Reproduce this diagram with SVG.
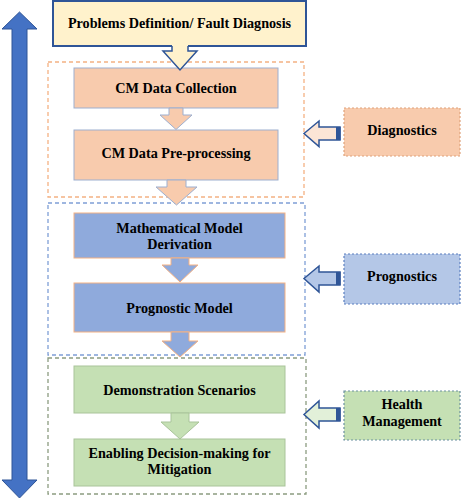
<svg xmlns="http://www.w3.org/2000/svg" width="461" height="500" viewBox="0 0 461 500">
<style>
text{font-family:"Liberation Serif","Times New Roman",serif;font-weight:bold;font-size:14.2px;fill:#000;text-anchor:middle}
.cont{fill:none;stroke-width:1.3;stroke-dasharray:4 3}
.side{stroke-width:1.2;stroke-dasharray:2 2}
.lar{stroke:#2F5597;stroke-width:1.5;stroke-linejoin:miter}
</style>
<rect width="461" height="500" fill="#fff"/>
<g id="containers">
<rect class="cont" x="48" y="62" width="256" height="135" stroke="#F4B183"/>
<rect class="cont" x="48" y="203" width="257" height="152" stroke="#7F9FD6"/>
<rect class="cont" x="48" y="358" width="258" height="136" stroke="#8C9C80"/>
</g>
<g id="big-arrow">
<path d="M19.5,12 L37,29 L27,29 L27,480 L37,480 L19.5,498 L2,480 L12,480 L12,29 L2,29 Z" fill="#4472C4" stroke="#2F5597" stroke-width="1"/>
</g>
<g id="n-problems">
<rect x="53" y="1" width="253" height="45" fill="#FFF2CC" stroke="#2F5597" stroke-width="2"/>
<text x="179.5" y="28">Problems Definition/ Fault Diagnosis</text>
</g>
<g id="n-collection">
<rect x="74" y="68" width="204" height="40" fill="#F8CBAD" stroke="#9DAFD0" stroke-width="1"/>
<text x="176" y="93">CM Data Collection</text>
</g>
<g id="n-preprocessing">
<rect x="74" y="130" width="204" height="50" fill="#F8CBAD" stroke="#9DAFD0" stroke-width="1"/>
<text x="176" y="157.5">CM Data Pre-processing</text>
</g>
<g id="n-math">
<rect x="74" y="213" width="211" height="45" fill="#8FAADC" stroke="#F4B183" stroke-width="1"/>
<text x="179.5" y="232.5">Mathematical Model</text>
<text x="179.5" y="249">Derivation</text>
</g>
<g id="n-prognostic">
<rect x="74" y="283" width="211" height="49" fill="#8FAADC" stroke="#F4B183" stroke-width="1"/>
<text x="179.5" y="313">Prognostic Model</text>
</g>
<g id="n-demo">
<rect x="74" y="366" width="211" height="47" fill="#C5E0B4" stroke="#A9C49A" stroke-width="1"/>
<text x="179.5" y="395">Demonstration Scenarios</text>
</g>
<g id="n-enabling">
<rect x="74" y="439" width="211" height="47" fill="#C5E0B4" stroke="#A9C49A" stroke-width="1"/>
<text x="179.5" y="458">Enabling Decision-making for</text>
<text x="179.5" y="473.5">Mitigation</text>
</g>
<g id="n-diagnostics">
<rect class="side" x="344" y="108" width="116" height="48" fill="#F8CBAD" stroke="#E0A27A"/>
<text x="402" y="135">Diagnostics</text>
</g>
<g id="n-prognostics">
<rect class="side" x="344" y="254" width="116" height="50" fill="#B4C7E7" stroke="#5B7FC0"/>
<text x="402" y="281">Prognostics</text>
</g>
<g id="n-health">
<rect class="side" x="344" y="391" width="116" height="49" fill="#C5E0B4" stroke="#6A8FA0"/>
<text x="402" y="409">Health</text>
<text x="402" y="426">Management</text>
</g>
<g id="connectors">
<path d="M172,45 L172,51 L163,51 L180,70 L197,51 L188,51 L188,45 Z" fill="#FFF2CC"/>
<path d="M172,46 L172,51 L163,51 L180,70 L197,51 L188,51 L188,46" fill="none" stroke="#2F5597" stroke-width="1.5"/>
<path d="M169,108 L169,115 L160,115 L176,129.5 L192,115 L183,115 L183,108 Z" fill="#F8CBAD" stroke="#9DAFD0" stroke-width="1"/>
<path d="M167,180 L167,187 L156,187 L176.5,205 L197,187 L186,187 L186,180 Z" fill="#F8CBAD" stroke="#9DAFD0" stroke-width="1"/>
<path d="M171,258 L171,265 L162,265 L180,282 L198,265 L189,265 L189,258 Z" fill="#8FAADC" stroke="#F4B183" stroke-width="1"/>
<path d="M171,332 L171,341 L162,341 L180,357 L198,341 L189,341 L189,332 Z" fill="#8FAADC" stroke="#F4B183" stroke-width="1"/>
<path d="M171,413 L171,422 L161,422 L180,439 L199,422 L189,422 L189,413 Z" fill="#C5E0B4" stroke="#A9C49A" stroke-width="1"/>
<path class="lar" d="M304,133.5 L319,121 L319,127 L340,127 L340,140 L319,140 L319,146.5 Z" fill="#FBE5D6"/>
<rect x="336" y="127" width="4.5" height="13" fill="#2F5597"/>
<path class="lar" d="M304,278.5 L319,266 L319,272 L340,272 L340,285 L319,285 L319,292 Z" fill="#B4C7E7"/>
<rect x="336" y="272" width="4.5" height="13" fill="#2F5597"/>
<path class="lar" d="M304,414.5 L319,401 L319,408 L340,408 L340,421 L319,421 L319,428 Z" fill="#E2F0D9"/>
<rect x="336" y="408" width="4.5" height="13" fill="#2F5597"/>
</g>
</svg>
